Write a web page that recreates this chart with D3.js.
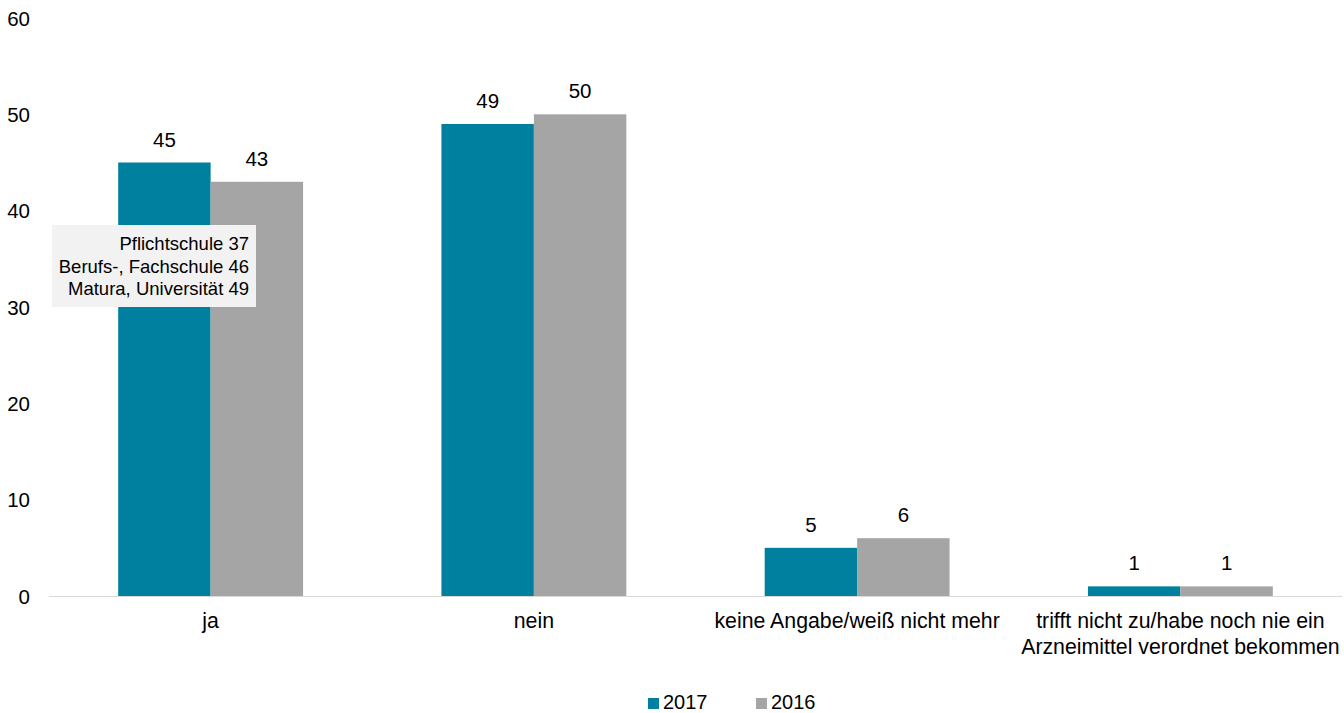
<!DOCTYPE html>
<html><head><meta charset="utf-8">
<script src="https://cdn.jsdelivr.net/npm/d3@7"></script>
<style>body{margin:0;background:#fff}text{font-family:"Liberation Sans",Arial,sans-serif;fill:#000}</style>
</head><body><svg id="c" width="1344" height="713"></svg>
<script>
const categories = ["ja","nein","keine Angabe/weiß nicht mehr","trifft nicht zu/habe noch nie ein\nArzneimittel verordnet bekommen"];
const seriesNames = ["2017","2016"];
const values2017 = [45,49,5,1];
const values2016 = [43,50,6,1];
const yTicks = [0,10,20,30,40,50,60];
const noteLines = ["Pflichtschule 37","Berufs-, Fachschule 46","Matura, Universität 49"];
const colors = ["#00809f","#a5a5a5"];

(function(){
const svg = d3.select("#c");
const mLeft = 49, mRight = 1342, mTop = 18, mBottom = 596;
const x = d3.scaleBand().domain(categories).range([mLeft,mRight]).paddingInner(0.428).paddingOuter(0.214);
const xs = d3.scaleBand().domain(seriesNames).range([0,x.bandwidth()]);
const y = d3.scaleLinear().domain([0,60]).range([mBottom,mTop]);

svg.append("g").selectAll("text").data(yTicks).join("text")
  .attr("x",30).attr("y",d=>y(d)+7.5).attr("text-anchor","end").attr("font-size",20.5).text(d=>d);

const series = [values2017, values2016];
series.forEach((vals,si)=>{
  const g = svg.append("g");
  g.selectAll("rect").data(categories).join("rect")
    .attr("x",c=>x(c)+xs(seriesNames[si])).attr("width",xs.bandwidth())
    .attr("y",(c,i)=>y(vals[i])).attr("height",(c,i)=>mBottom-y(vals[i]))
    .attr("fill",colors[si]);
  g.selectAll("text").data(categories).join("text")
    .attr("x",c=>x(c)+xs(seriesNames[si])+xs.bandwidth()/2)
    .attr("y",(c,i)=>y(vals[i])-16).attr("text-anchor","middle").attr("font-size",20.5)
    .text((c,i)=>vals[i]);
});

svg.append("line").attr("x1",mLeft).attr("x2",mRight).attr("y1",mBottom+0.5).attr("y2",mBottom+0.5)
  .attr("stroke","#d9d9d9").attr("stroke-width",1);

categories.forEach(c=>{
  const lines = c.split("\n");
  const t = svg.append("text").attr("x",x(c)+x.bandwidth()/2).attr("y",628)
    .attr("text-anchor","middle").attr("font-size",21.3);
  lines.forEach((l,i)=>t.append("tspan").attr("x",x(c)+x.bandwidth()/2).attr("dy",i?26:0).text(l));
});

svg.append("rect").attr("x",52).attr("y",225).attr("width",204).attr("height",82).attr("fill","#f2f2f2");
svg.append("g").selectAll("text").data(noteLines).join("text")
  .attr("x",249).attr("y",(d,i)=>250+i*22.5).attr("text-anchor","end").attr("font-size",18.5).text(d=>d);

const lg = svg.append("g");
const lx = [648,756];
seriesNames.forEach((s,i)=>{
  lg.append("rect").attr("x",lx[i]).attr("y",698).attr("width",11).attr("height",11).attr("fill",colors[i]);
  lg.append("text").attr("x",lx[i]+15).attr("y",708.5).attr("font-size",20).text(s);
});
})();
</script></body></html>
